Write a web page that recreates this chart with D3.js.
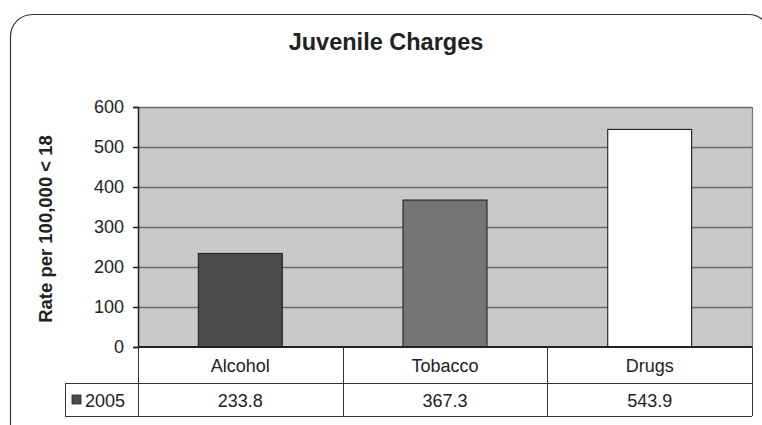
<!DOCTYPE html>
<html><head><meta charset="utf-8">
<script src="https://cdn.jsdelivr.net/npm/d3@7"></script>
<style>body{margin:0;background:#fff;} text{font-family:"Liberation Sans",Arial,sans-serif;}</style>
</head><body>
<svg id="c" width="762" height="425"></svg>
<script>
const categories = ["Alcohol", "Tobacco", "Drugs"];
const values2005 = [233.8, 367.3, 543.9];
const seriesName = "2005";
const yTicks = [0, 100, 200, 300, 400, 500, 600];
const barColors = ["#4b4b4d", "#747476", "#ffffff"];

const svg = d3.select("#c");
const L = 138, R = 752, T = 107, B = 347;
const row1 = 383, row2 = 416, legL = 65;
const FS = 18;

// outer rounded frame
svg.append("rect").attr("x", 10.5).attr("y", 14.5).attr("width", 760).attr("height", 440)
  .attr("rx", 22).attr("fill", "#fff").attr("stroke", "#333").attr("stroke-width", 1.2);

svg.append("text").attr("x", 386).attr("y", 50).attr("text-anchor", "middle")
  .attr("font-size", 23.5).attr("font-weight", "bold").attr("fill", "#222").text("Juvenile Charges");

const x = d3.scaleBand().domain(categories).range([L, R]).paddingInner(0).paddingOuter(0);
const y = d3.scaleLinear().domain([0, 600]).range([B, T]);

// plot background
svg.append("rect").attr("x", L).attr("y", T).attr("width", R - L).attr("height", B - T).attr("fill", "#c9c9cb");

// gridlines
svg.append("g").selectAll("line").data(yTicks.filter(d => d > 0)).join("line")
  .attr("x1", L).attr("x2", R).attr("y1", d => y(d) + 0.5).attr("y2", d => y(d) + 0.5)
  .attr("stroke", "#6a6a6a").attr("stroke-width", 1.5);
// right border
svg.append("line").attr("x1", R + 0.5).attr("x2", R + 0.5).attr("y1", T).attr("y2", B)
  .attr("stroke", "#777").attr("stroke-width", 1.2);

// bars
const bw = x.bandwidth() * 0.41;
svg.append("g").selectAll("rect").data(categories).join("rect")
  .attr("x", d => x(d) + (x.bandwidth() - bw) / 2)
  .attr("y", (d, i) => y(values2005[i]))
  .attr("width", bw)
  .attr("height", (d, i) => B - y(values2005[i]))
  .attr("fill", (d, i) => barColors[i])
  .attr("stroke", "#2a2a2a").attr("stroke-width", 1.2);

// y axis
const yAxis = d3.axisLeft(y).tickValues(yTicks).tickSize(5).tickPadding(9);
const ga = svg.append("g").attr("transform", `translate(${L},0)`).call(yAxis);
ga.select(".domain").attr("stroke", "#222").attr("stroke-width", 1.5);
ga.selectAll(".tick line").attr("stroke", "#222").attr("stroke-width", 1.5);
ga.selectAll(".tick text").attr("font-size", FS).attr("fill", "#222")
  .attr("font-family", "Liberation Sans, Arial, sans-serif");
// baseline
svg.append("line").attr("x1", L).attr("x2", R).attr("y1", B).attr("y2", B)
  .attr("stroke", "#222").attr("stroke-width", 1.8);

// y title
svg.append("text").attr("transform", `translate(52,${(T + B) / 2 + 2}) rotate(-90)`)
  .attr("text-anchor", "middle").attr("font-size", 18.5).attr("font-weight", "bold").attr("fill", "#222")
  .text("Rate per 100,000 < 18");

// data table
const tg = svg.append("g").attr("stroke", "#333").attr("stroke-width", 1);
tg.append("line").attr("x1", L).attr("x2", R).attr("y1", row1 + 0.5).attr("y2", row1 + 0.5);
tg.append("line").attr("x1", legL).attr("x2", L).attr("y1", row1 + 0.5).attr("y2", row1 + 0.5);
tg.append("line").attr("x1", legL).attr("x2", R).attr("y1", row2 + 0.5).attr("y2", row2 + 0.5);
tg.append("line").attr("x1", legL + 0.5).attr("x2", legL + 0.5).attr("y1", row1).attr("y2", row2);
const vlines = categories.map(c => x(c)).concat([R]);
tg.selectAll("line.v").data(vlines).join("line").attr("class", "v")
  .attr("x1", d => Math.round(d) + 0.5).attr("x2", d => Math.round(d) + 0.5)
  .attr("y1", B).attr("y2", row2);

svg.append("g").selectAll("text").data(categories).join("text")
  .attr("x", d => x(d) + x.bandwidth() / 2).attr("y", (B + row1) / 2 + 7)
  .attr("text-anchor", "middle").attr("font-size", FS).attr("fill", "#222").text(d => d);
svg.append("g").selectAll("text").data(values2005).join("text")
  .attr("x", (d, i) => x(categories[i]) + x.bandwidth() / 2).attr("y", (row1 + row2) / 2 + 7)
  .attr("text-anchor", "middle").attr("font-size", FS).attr("fill", "#222").text(d => d.toFixed(1));

// legend key
svg.append("rect").attr("x", 72).attr("y", 395).attr("width", 9).attr("height", 9)
  .attr("fill", barColors[0]).attr("stroke", "#222").attr("stroke-width", 0.8);
svg.append("text").attr("x", 85).attr("y", (row1 + row2) / 2 + 7).attr("font-size", FS).attr("fill", "#222").text(seriesName);
</script>
</body></html>
